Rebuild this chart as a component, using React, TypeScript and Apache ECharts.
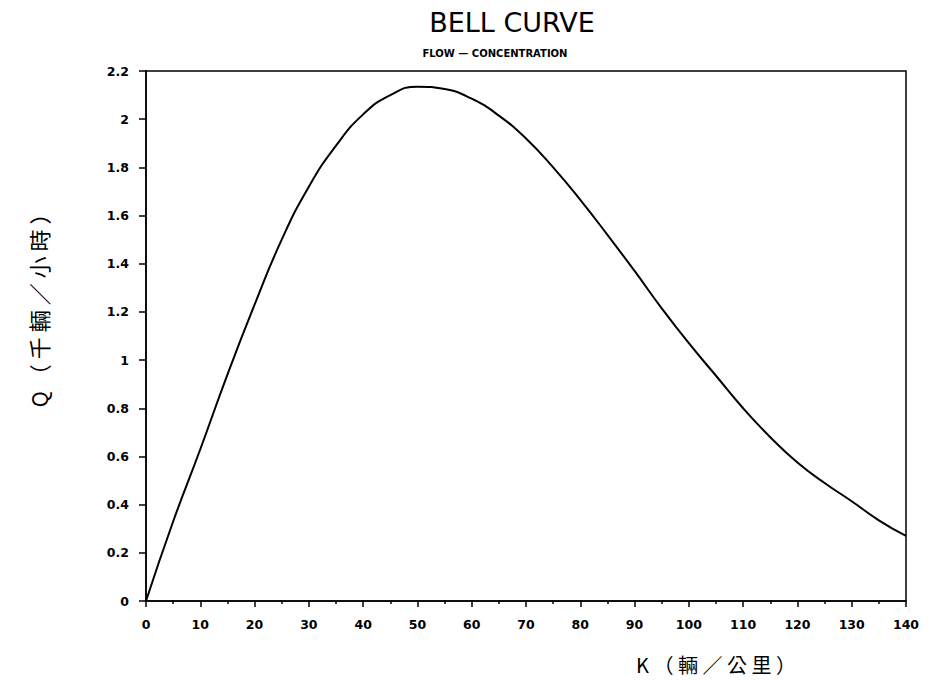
import React, { useEffect, useRef } from "react";
import * as echarts from "echarts";

const kValues = [0, 5, 10, 15, 20, 25, 30, 35, 40, 45, 50, 55, 60, 65, 70, 75, 80, 85, 90, 95, 100, 105, 110, 115, 120, 125, 130, 135, 140];
const qValues = [0, 0.33, 0.63, 0.94, 1.23, 1.5, 1.72, 1.89, 2.02, 2.1, 2.135, 2.125, 2.085, 2.015, 1.92, 1.8, 1.665, 1.52, 1.37, 1.215, 1.07, 0.935, 0.8, 0.68, 0.575, 0.49, 0.414, 0.335, 0.27];

const titleText = "BELL CURVE";
const subtitleText = "FLOW \u2014 CONCENTRATION";
const yLabelText = "Q \uFF08 千 輛 \uFF0F 小 時 \uFF09";
const xLabelText = "K \uFF08 輛 \uFF0F 公 里 \uFF09";

export default function App() {
  const ref = useRef<HTMLDivElement>(null);
  useEffect(() => {
    if (!ref.current) return;
    const chart = echarts.init(ref.current, undefined, { renderer: "svg" });
    const numFont = { color: "#000", fontFamily: "DejaVu Sans", fontSize: 12.5, fontWeight: "bold" as const };
    chart.setOption({
      animation: false,
      backgroundColor: "#fff",
      grid: { left: 146, right: 37, top: 71, bottom: 79, show: true, borderColor: "#000", borderWidth: 1.5, backgroundColor: "transparent" },
      xAxis: {
        type: "value",
        min: 0,
        max: 140,
        interval: 10,
        axisLine: { show: true, onZero: false, lineStyle: { color: "#000", width: 1.5 } },
        axisTick: { show: true, inside: false, length: 6, lineStyle: { color: "#000", width: 1.5 } },
        minorTick: { show: true, splitNumber: 2, length: 3, lineStyle: { color: "#000", width: 1.5 } },
        splitLine: { show: false },
        axisLabel: { ...numFont, margin: 17 },
      },
      yAxis: {
        type: "value",
        min: 0,
        max: 2.2,
        interval: 0.2,
        axisLine: { show: true, onZero: false, lineStyle: { color: "#000", width: 1.5 } },
        axisTick: { show: true, inside: false, length: 7, lineStyle: { color: "#000", width: 1.5 } },
        splitLine: { show: false },
        axisLabel: {
          ...numFont,
          margin: 17,
          formatter: (v: number) => String(Math.round(v * 10) / 10),
        },
      },
      series: [
        {
          type: "line",
          data: kValues.map((k, i) => [k, qValues[i]]),
          smooth: 0.5,
          showSymbol: false,
          lineStyle: { color: "#000", width: 2 },
        },
      ],
      graphic: [
        {
          type: "text",
          x: 512,
          y: 22,
          style: { text: titleText, fill: "#000", font: "27px 'DejaVu Sans'", textAlign: "center", textVerticalAlign: "middle" },
        },
        {
          type: "text",
          x: 495,
          y: 53,
          style: { text: subtitleText, fill: "#000", font: "bold 10px 'DejaVu Sans'", textAlign: "center", textVerticalAlign: "middle" },
        },
        {
          type: "text",
          x: 38,
          y: 305,
          rotation: Math.PI / 2,
          style: { text: yLabelText, fill: "#000", font: "22px 'Noto Sans CJK TC'", textAlign: "center", textVerticalAlign: "middle" },
        },
        {
          type: "text",
          x: 716,
          y: 664,
          style: { text: xLabelText, fill: "#000", font: "20px 'Noto Sans CJK TC'", textAlign: "center", textVerticalAlign: "middle" },
        },
      ],
    });
    return () => chart.dispose();
  }, []);
  return <div ref={ref} style={{ position: "fixed", left: 0, top: 0, width: 943, height: 680, background: "#fff" }} />;
}
